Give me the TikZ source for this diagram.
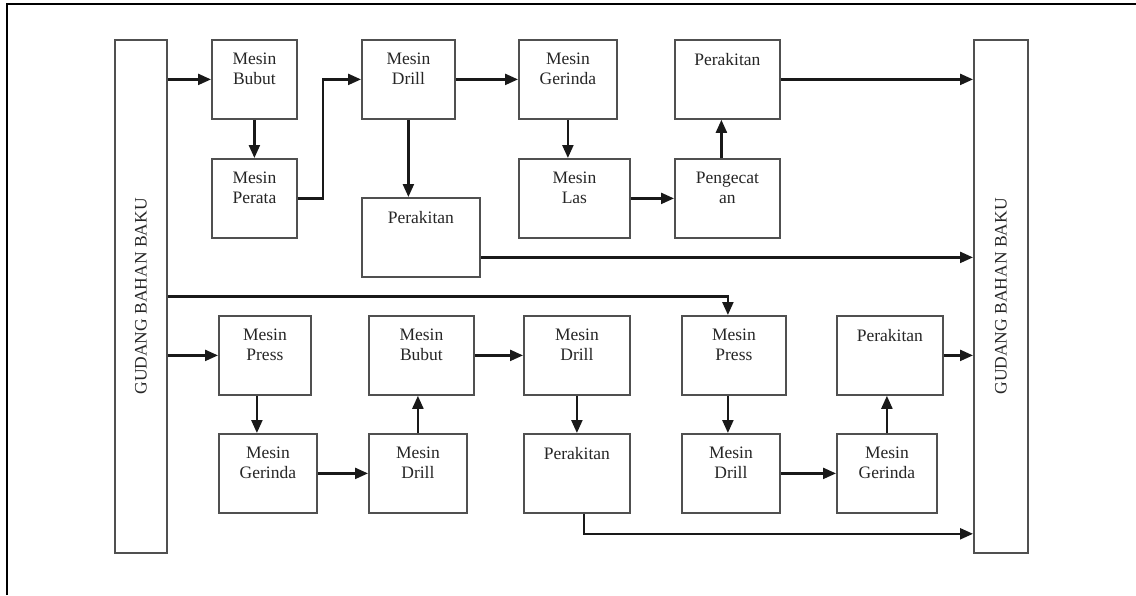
\documentclass[tikz,border=0pt]{standalone}
\usepackage{fontspec}
\setmainfont{Liberation Serif}
\usetikzlibrary{arrows.meta}
\definecolor{boxgray}{RGB}{80,80,80}
\definecolor{arrowblack}{RGB}{25,25,25}

\begin{document}
\begin{tikzpicture}[x=1pt,y=-1pt,
  box/.style={draw=boxgray, line width=1.8pt, anchor=north west, minimum height=79pt, inner sep=0pt},
  txt/.style={anchor=north, inner sep=0pt, yshift=-14pt, align=center, text=black!85, font=\fontsize{17.5}{20}\selectfont},
  gtxt/.style={rotate=90, inner sep=0pt, text=black!85, font=\fontsize{17.5}{20}\selectfont},
  arr/.style={draw=arrowblack, line width=2.3pt, -{Triangle[length=13pt,width=11pt]}}]
  \useasboundingbox (0,0) rectangle (1136,595);
  \draw[line width=2.8pt] (7,595) -- (7,4) -- (1136,4);

  % gudang
  \node[box, minimum width=52pt, minimum height=513pt, label={[gtxt]center:GUDANG BAHAN BAKU}] (gudangL) at (114,39) {};
  \node[box, minimum width=54pt, minimum height=513pt, label={[gtxt]center:GUDANG BAHAN BAKU}] (gudangR) at (973,39) {};

  % first product
  \node[box, minimum width=85pt, label={[txt]north:Mesin\\Bubut}] (bubut1) at (211,39) {};
  \node[box, minimum width=85pt, label={[txt]north:Mesin\\Perata}] (perata) at (211,158) {};
  \node[box, minimum width=93pt, label={[txt]north:Mesin\\Drill}] (drill1) at (361,39) {};
  \node[box, minimum width=118pt, label={[txt]north:Perakitan}] (rakit1) at (361,197) {};
  \node[box, minimum width=98pt, label={[txt]north:Mesin\\Gerinda}] (gerinda1) at (518,39) {};
  \node[box, minimum width=111pt, label={[txt]north:Mesin\\Las}] (las) at (518,158) {};
  \node[box, minimum width=105pt, label={[txt]north:Pengecat\\an}] (cat) at (674,158) {};
  \node[box, minimum width=105pt, label={[txt]north:Perakitan}] (rakit2) at (674,39) {};

  \draw[arr] (gudangL.east |- bubut1.west) -- (bubut1.west);
  \draw[arr] (bubut1.south) -- (perata.north);
  \draw[arr] (perata.east) -- ++(25,0) |- (drill1.west);
  \draw[arr] (drill1.east) -- (gerinda1.west);
  \draw[arr] (drill1.south) -- (drill1.south |- rakit1.north);
  \draw[arr] (gerinda1.south) -- (gerinda1.south |- las.north);
  \draw[arr] (las.east) -- (cat.west);
  \draw[arr] ([xshift=-6pt]cat.north) -- ([xshift=-6pt]rakit2.south);
  \draw[arr] (rakit2.east) -- (rakit2.east -| gudangR.west);
  \draw[arr] ([yshift=-20pt]rakit1.east) -- ([yshift=-20pt]rakit1.east -| gudangR.west);

  % second product
  \node[box, minimum width=92pt, label={[txt]north:Mesin\\Press}] (press1) at (218,315) {};
  \node[box, minimum width=98pt, label={[txt]north:Mesin\\Gerinda}] (gerinda2) at (218,433) {};
  \node[box, minimum width=105pt, label={[txt]north:Mesin\\Bubut}] (bubut2) at (368,315) {};
  \node[box, minimum width=98pt, label={[txt]north:Mesin\\Drill}] (drill2) at (368,433) {};
  \node[box, minimum width=106pt, label={[txt]north:Mesin\\Drill}] (drill3) at (523,315) {};
  \node[box, minimum width=106pt, label={[txt]north:Perakitan}] (rakit3) at (523,433) {};
  \node[box, minimum width=104pt, label={[txt]north:Mesin\\Press}] (press2) at (681,315) {};
  \node[box, minimum width=98pt, label={[txt]north:Mesin\\Drill}] (drill4) at (681,433) {};
  \node[box, minimum width=106pt, label={[txt]north:Perakitan}] (rakit4) at (836,315) {};
  \node[box, minimum width=100pt, label={[txt]north:Mesin\\Gerinda}] (gerinda3) at (836,433) {};

  \draw[arr] (gudangL.east) -| ([xshift=-6pt]press2.north);
  \draw[arr] (gudangL.east |- press1.west) -- (press1.west);
  \draw[arr] ([xshift=-8pt]press1.south) -- ([xshift=-8pt]press1.south |- gerinda2.north);
  \draw[arr] (gerinda2.east) -- (drill2.west);
  \draw[arr] (drill2.north) -- (drill2.north |- bubut2.south);
  \draw[arr] (bubut2.east) -- (drill3.west);
  \draw[arr] (drill3.south) -- (drill3.south |- rakit3.north);
  \draw[arr] ([xshift=7pt]rakit3.south) -- ++(0,20) coordinate (rakitout) -- (rakitout -| gudangR.west);
  \draw[arr] ([xshift=-6pt]press2.south) -- ([xshift=-6pt]press2.south |- drill4.north);
  \draw[arr] (drill4.east) -- (gerinda3.west);
  \draw[arr] (gerinda3.north) -- (gerinda3.north |- rakit4.south);
  \draw[arr] (rakit4.east) -- (rakit4.east -| gudangR.west);
\end{tikzpicture}
\end{document}
